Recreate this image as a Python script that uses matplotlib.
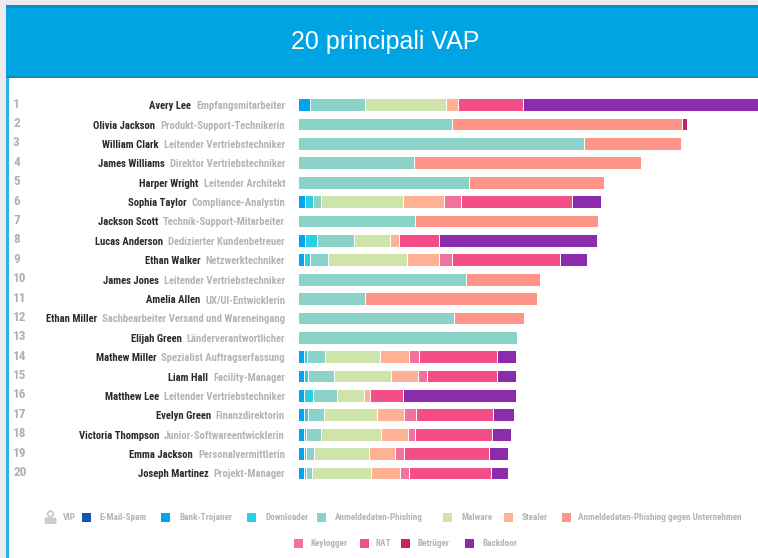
import numpy as np
import matplotlib
matplotlib.use('Agg')
import matplotlib.pyplot as plt
from matplotlib.patches import Rectangle, Circle, FancyBboxPatch

plt.rcParams['font.family'] = ['Roboto Condensed', 'Liberation Sans', 'DejaVu Sans']

title = '20 principali VAP'

names = ['Avery Lee', 'Olivia Jackson', 'William Clark', 'James Williams', 'Harper Wright',
         'Sophia Taylor', 'Jackson Scott', 'Lucas Anderson', 'Ethan Walker', 'James Jones',
         'Amelia Allen', 'Ethan Miller', 'Elijah Green', 'Mathew Miller', 'Liam Hall',
         'Matthew Lee', 'Evelyn Green', 'Victoria Thompson', 'Emma Jackson', 'Joseph Martinez']
roles = ['Empfangsmitarbeiter', 'Produkt-Support-Technikerin', 'Leitender Vertriebstechniker',
         'Direktor Vertriebstechniker', 'Leitender Architekt', 'Compliance-Analystin',
         'Technik-Support-Mitarbeiter', 'Dedizierter Kundenbetreuer', 'Netzwerktechniker',
         'Leitender Vertriebstechniker', 'UX/UI-Entwicklerin',
         'Sachbearbeiter Versand und Wareneingang', 'Länderverantwortlicher',
         'Spezialist Auftragserfassung', 'Facility-Manager', 'Leitender Vertriebstechniker',
         'Finanzdirektorin', 'Junior-Softwareentwicklerin', 'Personalvermittlerin', 'Projekt-Manager']

# series values (one value per person)
bank = [11.5, 0, 0, 0, 0, 7, 0, 7, 5.5, 0, 0, 0, 0, 6, 5.5, 5.5, 5.5, 5.5, 5.5, 5.5]
downloader = [0, 0, 0, 0, 0, 8, 0, 12, 6, 0, 0, 0, 0, 2.5, 4.5, 9, 4, 2.5, 2.5, 2]
phishing = [55, 153.5, 285.5, 115.5, 171, 7.5, 116.5, 37, 18.5, 168, 66.5, 156, 218.5,
            18.5, 26, 24, 16, 15, 8, 6]
malware = [81, 0, 0, 0, 0, 82.5, 0, 36, 79, 0, 0, 0, 0, 54.5, 57, 27.5, 53, 60, 55, 59]
stealer = [12, 0, 0, 0, 0, 41, 0, 8.5, 32, 0, 0, 0, 0, 29, 27, 6, 27.5, 27, 26, 29]
corp_phishing = [0, 230, 97, 227.5, 134.5, 0, 183.5, 0, 0, 73.5, 172, 69.5, 0,
                 0, 0, 0, 0, 0, 0, 0]
keylogger = [0, 0, 0, 0, 0, 16.5, 0, 0, 12.5, 0, 0, 0, 0, 10, 9, 0, 12, 7, 9, 9]
rat = [65, 0, 0, 0, 0, 111, 0, 40.5, 108, 0, 0, 0, 0, 78.5, 69.5, 33, 77, 77, 85, 82]
betrueger = [0, 5, 0, 0, 0, 0, 0, 0, 0, 0, 0, 0, 0, 0, 0, 0, 0, 0, 0, 0]
backdoor = [245, 0, 0, 0, 0, 29.5, 0, 158, 27.5, 0, 0, 0, 0, 19, 19, 112.5, 20.5, 19, 19, 17]

series = [bank, downloader, phishing, malware, stealer, corp_phishing, keylogger, rat, betrueger, backdoor]
series_colors = ['#00a5ee', '#2bcfe2', '#8bd2c9', '#cfe4aa', '#ffb196', '#ff9488',
                 '#f4719f', '#f34e88', '#c9206a', '#8a2cab']

legend_labels = ['E-Mail-Spam', 'Bank-Trojaner', 'Downloader', 'Anmeldedaten-Phishing', 'Malware',
                 'Stealer', 'Anmeldedaten-Phishing gegen Unternehmen', 'Keylogger', 'RAT', 'Betrüger',
                 'Backdoor']
legend_colors = ['#0d5ab0'] + series_colors
legend_square_x = [82, 161, 246.5, 316.5, 442.7, 503.5, 561.5, 293.5, 359.5, 401, 465]
legend_text_x = [99.5, 180, 265, 335, 461, 522, 578, 310.5, 376, 417, 482.5]
legend_y = [517, 517, 517, 517, 517, 517, 517, 543, 543, 543, 543]

W, H = 758, 558
fig = plt.figure(figsize=(W / 100, H / 100), dpi=100, facecolor='white')

# page furniture in pixel coordinates
bg = fig.add_axes([0, 0, 1, 1])
bg.set_xlim(0, W)
bg.set_ylim(H, 0)
bg.axis('off')
bg.add_patch(Rectangle((0, 0), 6, H, color='#ebebed', lw=0))
bg.add_patch(Rectangle((0, 0), W, 5, color='#ebebed', lw=0))
bg.add_patch(Rectangle((6, 5), 2.5, H, color='#2cb2e6', lw=0))
bg.add_patch(Rectangle((6, 5), W, 73, color='#00a4e2', lw=0))
bg.add_patch(Rectangle((6, 5), W, 2.5, color='#0e8dbc', lw=0))
bg.add_patch(Rectangle((6, 75.5), W, 2.5, color='#0e8dbc', lw=0))
bg.text(385, 42.5, title, color='white', fontsize=18, ha='center', va='center', family='Liberation Sans')

# bars
ax = fig.add_axes([298 / W, (H - 485) / H, (W - 298) / W, 390 / H], facecolor='none')
ax.set_xlim(0, W - 298)
ax.set_ylim(19.62, -0.5)
ax.axis('off')
left = np.zeros(len(names))
for values, color in zip(series, series_colors):
    values = np.array(values)
    ax.barh(range(len(names)), values, left=left, height=0.66, color=color,
            edgecolor='white', linewidth=0.7)
    left += values

# row labels
for i, (name, role) in enumerate(zip(names, roles)):
    y = 104.7 + i * 19.38
    bg.text(13, y - 0.5, str(i + 1), color='#b0b0b0', fontsize=9.5, fontweight='bold', va='center')
    role_text = bg.text(285, y + 1.5, role, color='#b4b4b4', fontsize=7.7, fontweight='bold',
                        ha='right', va='center')
    bg.annotate(name, xy=(0, 0.5), xycoords=role_text, xytext=(-5, 0), textcoords='offset pixels',
                color='#2a2a2a', fontsize=7.7, fontweight='bold', ha='right', va='center')

# legend
bg.add_patch(Circle((50.5, 514), 2.8, facecolor='none', edgecolor='#c4c4c4', lw=1.2))
bg.add_patch(FancyBboxPatch((46, 519), 9, 3.5, boxstyle='round,pad=0.8', facecolor='#cfcfcf',
                            edgecolor='#c4c4c4', lw=0.8))
bg.text(63, 517, 'VIP', color='#b4b4b4', fontsize=6.6, fontweight='bold', va='center')
for label, color, sx, tx, ly in zip(legend_labels, legend_colors, legend_square_x, legend_text_x, legend_y):
    bg.add_patch(Rectangle((sx, ly - 4.5), 9, 9, color=color, lw=0))
    bg.text(tx, ly, label, color='#b4b4b4', fontsize=6.6, fontweight='bold', va='center')

fig.savefig('out.png', dpi=100)
